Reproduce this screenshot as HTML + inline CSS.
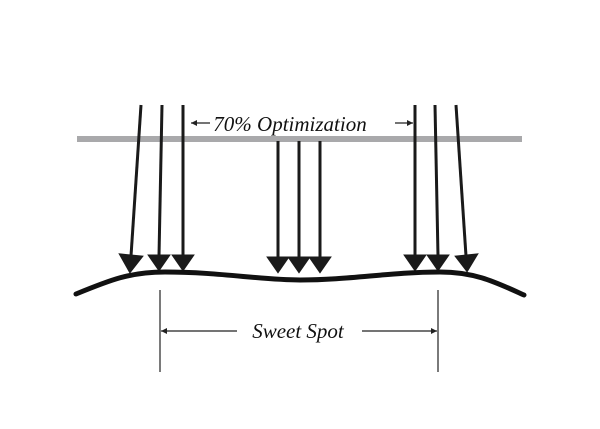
<!DOCTYPE html>
<html><head><style>body{margin:0;background:#fff}svg{display:block}</style></head><body>
<svg width="600" height="429" viewBox="0 0 600 429" xmlns="http://www.w3.org/2000/svg">
<defs>
<marker id="ah" viewBox="0 0 10 10" refX="10" refY="5" markerWidth="6" markerHeight="6" markerUnits="userSpaceOnUse" orient="auto"><path d="M0,0 L10,5 L0,10 z" fill="#222"/></marker>
</defs>
<rect x="77" y="136" width="445" height="6" fill="#a9a9ab"/>
<g stroke="#1a1a1a" stroke-width="3" fill="#1a1a1a">
<line x1="141" y1="105" x2="131" y2="256"/><polygon points="121,255 141,257 130,271"/>
<line x1="162" y1="105" x2="159" y2="256"/><polygon points="150,256 168,256 159,269"/>
<line x1="183" y1="105" x2="183" y2="256"/><polygon points="174,256 192,256 183,269"/>
<line x1="278" y1="141" x2="278" y2="258"/><polygon points="269,258 287,258 278,271"/>
<line x1="299" y1="141" x2="299" y2="258"/><polygon points="290,258 308,258 299,271"/>
<line x1="320" y1="141" x2="320" y2="258"/><polygon points="311,258 329,258 320,271"/>
<line x1="415" y1="105" x2="415" y2="256"/><polygon points="406,256 424,256 415,269"/>
<line x1="435" y1="105" x2="438" y2="256"/><polygon points="429,256 447,256 438,269"/>
<line x1="456" y1="105" x2="466" y2="256"/><polygon points="457,257 476,255 467,270"/>
</g>
<path d="M76,294 C110,280 130,272 165,272 C220,272 260,280 300,280 C350,280 390,272 440,272 C475,272 495,282 524,295" stroke="#111" stroke-width="5" fill="none" stroke-linecap="round"/>
<g stroke="#222" stroke-width="1.2">
<line x1="210" y1="123" x2="191" y2="123" marker-end="url(#ah)"/>
<line x1="395" y1="123" x2="413" y2="123" marker-end="url(#ah)"/>
<line x1="160" y1="290" x2="160" y2="372"/>
<line x1="438" y1="290" x2="438" y2="372"/>
<line x1="237" y1="331" x2="161" y2="331" marker-end="url(#ah)"/>
<line x1="362" y1="331" x2="437" y2="331" marker-end="url(#ah)"/>
</g>
<text x="290" y="131" text-anchor="middle" font-family="'Liberation Serif',serif" font-style="italic" font-size="21" fill="#111">70% Optimization</text>
<text x="298" y="338" text-anchor="middle" font-family="'Liberation Serif',serif" font-style="italic" font-size="21" fill="#111">Sweet Spot</text>
</svg>
</body></html>
